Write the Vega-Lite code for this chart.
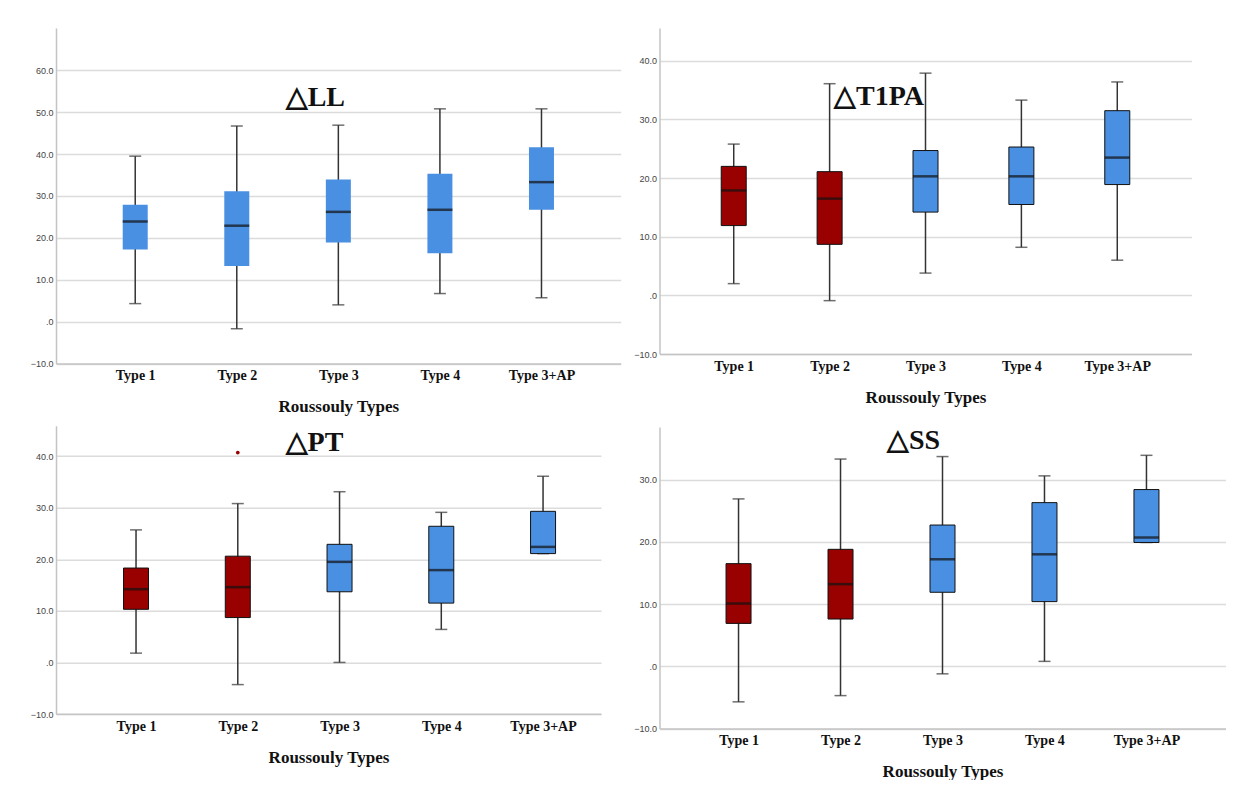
{
  "$schema": "https://vega.github.io/schema/vega-lite/v6.json",
  "background": "white",
  "padding": {"top": 28, "left": 30, "right": 0, "bottom": 0},
  "datasets": {
    "stats": [
      {"panel": "LL", "type": "Type 1", "grp": "B", "lower": 4.3, "q1": 17.2, "median": 23.9, "q3": 27.9, "upper": 39.5},
      {"panel": "LL", "type": "Type 2", "grp": "B", "lower": -1.7, "q1": 13.3, "median": 22.9, "q3": 31.1, "upper": 46.7},
      {"panel": "LL", "type": "Type 3", "grp": "B", "lower": 4.0, "q1": 18.9, "median": 26.2, "q3": 33.9, "upper": 46.9},
      {"panel": "LL", "type": "Type 4", "grp": "B", "lower": 6.7, "q1": 16.3, "median": 26.7, "q3": 35.3, "upper": 50.8},
      {"panel": "LL", "type": "Type 3+AP", "grp": "B", "lower": 5.7, "q1": 26.7, "median": 33.3, "q3": 41.6, "upper": 50.8},
      {"panel": "T1PA", "type": "Type 1", "grp": "A", "lower": 2.0, "q1": 11.9, "median": 17.9, "q3": 22.0, "upper": 25.8},
      {"panel": "T1PA", "type": "Type 2", "grp": "A", "lower": -0.9, "q1": 8.7, "median": 16.5, "q3": 21.1, "upper": 36.1},
      {"panel": "T1PA", "type": "Type 3", "grp": "B", "lower": 3.8, "q1": 14.2, "median": 20.3, "q3": 24.7, "upper": 37.9},
      {"panel": "T1PA", "type": "Type 4", "grp": "B", "lower": 8.2, "q1": 15.5, "median": 20.3, "q3": 25.3, "upper": 33.3},
      {"panel": "T1PA", "type": "Type 3+AP", "grp": "B", "lower": 6.0, "q1": 18.9, "median": 23.5, "q3": 31.5, "upper": 36.4},
      {"panel": "PT", "type": "Type 1", "grp": "A", "lower": 1.8, "q1": 10.3, "median": 14.2, "q3": 18.3, "upper": 25.7},
      {"panel": "PT", "type": "Type 2", "grp": "A", "lower": -4.3, "q1": 8.7, "median": 14.6, "q3": 20.6, "upper": 30.8},
      {"panel": "PT", "type": "Type 3", "grp": "B", "lower": 0.0, "q1": 13.7, "median": 19.5, "q3": 22.9, "upper": 33.1},
      {"panel": "PT", "type": "Type 4", "grp": "B", "lower": 6.4, "q1": 11.5, "median": 17.9, "q3": 26.4, "upper": 29.1},
      {"panel": "PT", "type": "Type 3+AP", "grp": "B", "lower": 21.1, "q1": 21.1, "median": 22.4, "q3": 29.3, "upper": 36.1},
      {"panel": "SS", "type": "Type 1", "grp": "A", "lower": -5.7, "q1": 6.9, "median": 10.1, "q3": 16.5, "upper": 26.9},
      {"panel": "SS", "type": "Type 2", "grp": "A", "lower": -4.7, "q1": 7.6, "median": 13.2, "q3": 18.8, "upper": 33.3},
      {"panel": "SS", "type": "Type 3", "grp": "B", "lower": -1.2, "q1": 11.9, "median": 17.2, "q3": 22.7, "upper": 33.7},
      {"panel": "SS", "type": "Type 4", "grp": "B", "lower": 0.8, "q1": 10.4, "median": 18.0, "q3": 26.3, "upper": 30.6},
      {"panel": "SS", "type": "Type 3+AP", "grp": "B", "lower": 19.9, "q1": 19.9, "median": 20.7, "q3": 28.4, "upper": 33.9}
    ],
    "outliers": [
      {"panel": "PT", "type": "Type 2", "grp": "A", "value": 40.7}
    ]
  },
  "config": {
    "view": {"stroke": null},
    "axisY": {
      "domainColor": "#c4c4c4", "domainWidth": 1.5,
      "gridColor": "#dcdcdc", "gridWidth": 1.5,
      "ticks": false, "tickSize": 0,
      "labelFont": "Liberation Sans", "labelFontSize": 9, "labelColor": "#444", "labelPadding": 3,
      "labelExpr": "datum.value === 0 ? '.0' : format(datum.value, '.1f')"
    },
    "axisX": {
      "domainColor": "#c4c4c4", "domainWidth": 1.5,
      "ticks": false, "tickSize": 0, "grid": false,
      "labelFont": "Liberation Serif", "labelFontWeight": "bold", "labelFontSize": 14, "labelColor": "#111",
      "labelPadding": 5, "labelAngle": 0,
      "titleFont": "Liberation Serif", "titleFontWeight": "bold", "titleFontSize": 17, "titleColor": "#111", "titlePadding": 16
    },
    "title": {"font": "Liberation Serif", "fontWeight": "bold", "fontSize": 28, "color": "#111", "anchor": "middle", "frame": "group", "baseline": "alphabetic"}
  },
  "align": "none",
  "hconcat": [
    {
      "spacing": 10.7,
      "vconcat": [
        {
          "width": 564.7, "height": 335.5,
          "title": {"text": "△LL", "offset": -84, "dx": -23},
          "data": {"name": "stats"},
          "transform": [{"filter": "datum.panel === 'LL'"}],
          "encoding": {
            "x": {"field": "type", "type": "nominal", "sort": ["Type 1", "Type 2", "Type 3", "Type 4", "Type 3+AP"],
                  "scale": {"type": "point", "padding": 0.78, "align": 0.5}, "axis": {"title": "Roussouly Types"}}
          },
          "layer": [
            {"mark": {"type": "rule", "color": "#333", "strokeWidth": 1.5},
             "encoding": {"y": {"field": "lower", "type": "quantitative", "title": null, "scale": {"domain": [-10, 70.1], "nice": false, "zero": false},
                                "axis": {"values": [-10, 0, 10, 20, 30, 40, 50, 60]}}, "y2": {"field": "upper"}}},
            {"mark": {"type": "tick", "size": 12, "thickness": 1.5, "color": "#333"}, "encoding": {"y": {"field": "lower", "type": "quantitative", "title": null}}},
            {"mark": {"type": "tick", "size": 12, "thickness": 1.5, "color": "#333"}, "encoding": {"y": {"field": "upper", "type": "quantitative", "title": null}}},
            {"mark": {"type": "bar", "size": 25},
             "encoding": {"y": {"field": "q1", "type": "quantitative", "title": null}, "y2": {"field": "q3"},
                          "color": {"field": "grp", "type": "nominal", "scale": {"domain": ["A", "B"], "range": ["#990000", "#4a90e2"]}, "legend": null}}},
            {"mark": {"type": "tick", "size": 25, "thickness": 2.5, "color": "#111"}, "encoding": {"y": {"field": "median", "type": "quantitative", "title": null}}}
          ]
        },
        {
          "width": 545, "height": 288.3,
          "title": {"text": "△PT", "offset": -31, "dx": -14},
          "encoding": {
            "x": {"field": "type", "type": "nominal", "sort": ["Type 1", "Type 2", "Type 3", "Type 4", "Type 3+AP"],
                  "scale": {"type": "point", "padding": 0.678, "align": 0.58}, "axis": {"title": "Roussouly Types"}}
          },
          "layer": [
            {
              "data": {"name": "stats"},
              "transform": [{"filter": "datum.panel === 'PT'"}],
              "layer": [
                {"mark": {"type": "rule", "color": "#333", "strokeWidth": 1.5},
                 "encoding": {"y": {"field": "lower", "type": "quantitative", "title": null, "scale": {"domain": [-10, 45.9], "nice": false, "zero": false}, "axis": {"values": [-10, 0, 10, 20, 30, 40]}}, "y2": {"field": "upper"}}},
                {"mark": {"type": "tick", "size": 12, "thickness": 1.5, "color": "#333"}, "encoding": {"y": {"field": "lower", "type": "quantitative", "title": null}}},
                {"mark": {"type": "tick", "size": 12, "thickness": 1.5, "color": "#333"}, "encoding": {"y": {"field": "upper", "type": "quantitative", "title": null}}},
                {"mark": {"type": "bar", "size": 25, "stroke": "#111", "strokeWidth": 1},
                 "encoding": {"y": {"field": "q1", "type": "quantitative", "title": null}, "y2": {"field": "q3"},
                              "color": {"field": "grp", "type": "nominal", "scale": {"domain": ["A", "B"], "range": ["#990000", "#4a90e2"]}, "legend": null}}},
                {"mark": {"type": "tick", "size": 25, "thickness": 2.5, "color": "#111"}, "encoding": {"y": {"field": "median", "type": "quantitative", "title": null}}}
              ]
            },
            {
              "data": {"name": "outliers"},
              "mark": {"type": "circle", "size": 14, "opacity": 1, "color": "#990000"},
              "encoding": {"y": {"field": "value", "type": "quantitative", "title": null}}
            }
          ]
        }
      ]
    },
    {
      "spacing": 21,
      "vconcat": [
        {
          "width": 532, "height": 326,
          "title": {"text": "△T1PA", "offset": -82.5, "dx": -46.5},
          "data": {"name": "stats"},
          "transform": [{"filter": "datum.panel === 'T1PA'"}],
          "encoding": {
            "x": {"field": "type", "type": "nominal", "sort": ["Type 1", "Type 2", "Type 3", "Type 4", "Type 3+AP"],
                  "scale": {"type": "point", "padding": 0.774, "align": 0.5}, "axis": {"title": "Roussouly Types"}}
          },
          "layer": [
            {"mark": {"type": "rule", "color": "#333", "strokeWidth": 1.5},
             "encoding": {"y": {"field": "lower", "type": "quantitative", "title": null, "scale": {"domain": [-10, 45.6], "nice": false, "zero": false}, "axis": {"values": [-10, 0, 10, 20, 30, 40]}}, "y2": {"field": "upper"}}},
            {"mark": {"type": "tick", "size": 12, "thickness": 1.5, "color": "#333"}, "encoding": {"y": {"field": "lower", "type": "quantitative", "title": null}}},
            {"mark": {"type": "tick", "size": 12, "thickness": 1.5, "color": "#333"}, "encoding": {"y": {"field": "upper", "type": "quantitative", "title": null}}},
            {"mark": {"type": "bar", "size": 25, "stroke": "#111", "strokeWidth": 1},
             "encoding": {"y": {"field": "q1", "type": "quantitative", "title": null}, "y2": {"field": "q3"},
                          "color": {"field": "grp", "type": "nominal", "scale": {"domain": ["A", "B"], "range": ["#990000", "#4a90e2"]}, "legend": null}}},
            {"mark": {"type": "tick", "size": 25, "thickness": 2.5, "color": "#111"}, "encoding": {"y": {"field": "median", "type": "quantitative", "title": null}}}
          ]
        },
        {
          "width": 566, "height": 301.6,
          "title": {"text": "△SS", "offset": -27.6, "dx": -29},
          "data": {"name": "stats"},
          "transform": [{"filter": "datum.panel === 'SS'"}],
          "encoding": {
            "x": {"field": "type", "type": "nominal", "sort": ["Type 1", "Type 2", "Type 3", "Type 4", "Type 3+AP"],
                  "scale": {"type": "point", "padding": 0.775, "align": 0.5}, "axis": {"title": "Roussouly Types"}}
          },
          "layer": [
            {"mark": {"type": "rule", "color": "#333", "strokeWidth": 1.5},
             "encoding": {"y": {"field": "lower", "type": "quantitative", "title": null, "scale": {"domain": [-10, 38.45], "nice": false, "zero": false}, "axis": {"values": [-10, 0, 10, 20, 30]}}, "y2": {"field": "upper"}}},
            {"mark": {"type": "tick", "size": 12, "thickness": 1.5, "color": "#333"}, "encoding": {"y": {"field": "lower", "type": "quantitative", "title": null}}},
            {"mark": {"type": "tick", "size": 12, "thickness": 1.5, "color": "#333"}, "encoding": {"y": {"field": "upper", "type": "quantitative", "title": null}}},
            {"mark": {"type": "bar", "size": 25, "stroke": "#111", "strokeWidth": 1},
             "encoding": {"y": {"field": "q1", "type": "quantitative", "title": null}, "y2": {"field": "q3"},
                          "color": {"field": "grp", "type": "nominal", "scale": {"domain": ["A", "B"], "range": ["#990000", "#4a90e2"]}, "legend": null}}},
            {"mark": {"type": "tick", "size": 25, "thickness": 2.5, "color": "#111"}, "encoding": {"y": {"field": "median", "type": "quantitative", "title": null}}}
          ]
        }
      ]
    }
  ],
  "spacing": 12.5
}
